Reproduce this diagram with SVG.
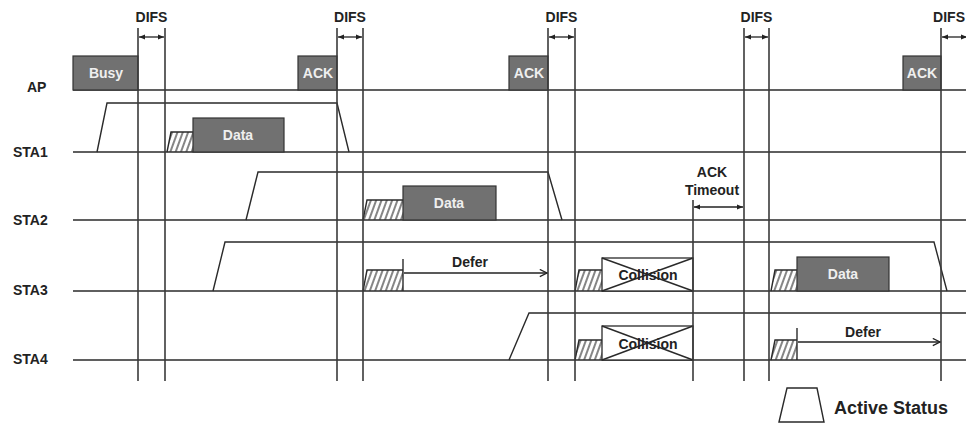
<svg xmlns="http://www.w3.org/2000/svg" width="966" height="424" viewBox="0 0 966 424">
<defs>
<style>
.ln{stroke:#2a2a2a;stroke-width:1.4;fill:none}
.vl{stroke:#3a3a3a;stroke-width:1.6}
.t{font-family:"Liberation Sans",Arial,sans-serif;font-weight:bold;font-size:14px;fill:#222}
.m{text-anchor:middle}
.box{fill:#717171;stroke:#333;stroke-width:1.2}
.bt{font-family:"Liberation Sans",Arial,sans-serif;font-weight:bold;font-size:14px;fill:#efefef;text-anchor:middle}
.ht{fill:url(#h);stroke:none}
.cb{fill:#fff;stroke:#2a2a2a;stroke-width:1.3}
.arr{stroke:#222;stroke-width:1.3;fill:none}
</style>
<pattern id="h" width="5" height="10" patternUnits="userSpaceOnUse" patternTransform="rotate(20)">
<line x1="2" y1="-1" x2="2" y2="11" stroke="#333" stroke-width="1.2"/>
</pattern>
<marker id="ad" viewBox="0 0 6 6" refX="6" refY="3" markerWidth="6" markerHeight="6" markerUnits="userSpaceOnUse" orient="auto-start-reverse">
<path d="M0,0.5 L6,3 L0,5.5z" fill="#222"/>
</marker>
<marker id="ao" viewBox="0 0 10 10" refX="9" refY="5" markerWidth="9" markerHeight="9" markerUnits="userSpaceOnUse" orient="auto">
<path d="M1,1 L9,5 L1,9" fill="none" stroke="#222" stroke-width="1.4"/>
</marker>
</defs>
<rect width="966" height="424" fill="#fff"/>

<g id="timelines">
<line class="ln" x1="73" y1="90" x2="966" y2="90"/>
<line class="ln" x1="73" y1="152" x2="966" y2="152"/>
<line class="ln" x1="73" y1="220" x2="966" y2="220"/>
<line class="ln" x1="73" y1="291" x2="966" y2="291"/>
<line class="ln" x1="73" y1="360" x2="966" y2="360"/>
<text class="t" x="27" y="92">AP</text>
<text class="t" x="13" y="157">STA1</text>
<text class="t" x="13" y="225">STA2</text>
<text class="t" x="13" y="295">STA3</text>
<text class="t" x="13" y="364">STA4</text>
</g>

<g id="active-status">
<polyline class="ln" points="97,152 107,103 337,103 349,152"/>
<polyline class="ln" points="246,220 258,172 548,172 562,220"/>
<polyline class="ln" points="213,291 225,242 934,242 947,291"/>
<polyline class="ln" points="509,360 529,313 966,313"/>
</g>

<g id="ap-frames">
<g id="busy"><rect class="box" x="73" y="56" width="65" height="34"/><text class="bt" x="106" y="78">Busy</text></g>
<g id="ack1"><rect class="box" x="298" y="56" width="39" height="34"/><text class="bt" x="318" y="78">ACK</text></g>
<g id="ack2"><rect class="box" x="509" y="56" width="39" height="34"/><text class="bt" x="529" y="78">ACK</text></g>
<g id="ack3"><rect class="box" x="903" y="56" width="38" height="34"/><text class="bt" x="922" y="78">ACK</text></g>
</g>

<g id="sta1-data">
<polygon class="ht" points="167,152 171,132 193,132 193,152"/>
<polyline class="ln" points="167,152 171,132 193,132"/>
<rect class="box" x="193" y="118" width="91" height="34"/>
<text class="bt" x="238" y="140">Data</text>
</g>

<g id="sta2-data">
<polygon class="ht" points="363,220 367,200 403,200 403,220"/>
<polyline class="ln" points="363,220 367,200 403,200"/>
<rect class="box" x="403" y="186" width="93" height="34"/>
<text class="bt" x="449" y="208">Data</text>
</g>

<g id="sta3-backoff">
<polygon class="ht" points="363,291 367,270 403,270 403,291"/>
<polyline class="ln" points="363,291 367,270 403,270"/>
<line class="ln" x1="403" y1="259" x2="403" y2="291"/>
</g>

<g id="sta3-collision">
<polygon class="ht" points="575,291 579,270 602,270 602,291"/>
<polyline class="ln" points="575,291 579,270 602,270"/>
<rect class="cb" x="602" y="258" width="91" height="33"/>
<line class="ln" x1="602" y1="258" x2="693" y2="291"/>
<line class="ln" x1="602" y1="291" x2="693" y2="258"/>
<text class="t m" x="648" y="280">Collision</text>
</g>

<g id="sta3-data">
<polygon class="ht" points="771,291 775,270 797,270 797,291"/>
<polyline class="ln" points="771,291 775,270 797,270"/>
<rect class="box" x="797" y="257" width="92" height="34"/>
<text class="bt" x="843" y="279">Data</text>
</g>

<g id="sta4-collision">
<polygon class="ht" points="575,360 579,340 602,340 602,360"/>
<polyline class="ln" points="575,360 579,340 602,340"/>
<rect class="cb" x="602" y="326" width="91" height="34"/>
<line class="ln" x1="602" y1="326" x2="693" y2="360"/>
<line class="ln" x1="602" y1="360" x2="693" y2="326"/>
<text class="t m" x="648" y="349">Collision</text>
</g>

<g id="sta4-backoff">
<polygon class="ht" points="771,360 775,340 797,340 797,360"/>
<polyline class="ln" points="771,360 775,340 797,340"/>
<line class="ln" x1="797" y1="328" x2="797" y2="360"/>
</g>

<g id="time-markers">
<line class="vl" x1="138" y1="28" x2="138" y2="381"/>
<line class="vl" x1="165" y1="28" x2="165" y2="381"/>
<line class="vl" x1="337" y1="28" x2="337" y2="381"/>
<line class="vl" x1="363" y1="28" x2="363" y2="381"/>
<line class="vl" x1="548" y1="28" x2="548" y2="381"/>
<line class="vl" x1="575" y1="28" x2="575" y2="381"/>
<line class="vl" x1="744" y1="28" x2="744" y2="381"/>
<line class="vl" x1="769" y1="28" x2="769" y2="381"/>
<line class="vl" x1="941" y1="28" x2="941" y2="381"/>
<line class="vl" x1="968" y1="28" x2="968" y2="381"/>
<line class="vl" x1="693" y1="200" x2="693" y2="381"/>
<text class="t m" x="151.5" y="22">DIFS</text>
<text class="t m" x="350" y="22">DIFS</text>
<text class="t m" x="561.5" y="22">DIFS</text>
<text class="t m" x="756.5" y="22">DIFS</text>
<text class="t" x="965" y="22" text-anchor="end">DIFS</text>
<text class="t m" x="712" y="177">ACK</text>
<text class="t m" x="712" y="195">Timeout</text>
</g>

<g id="connectors">
<line class="arr" x1="139" y1="37" x2="164" y2="37" marker-start="url(#ad)" marker-end="url(#ad)"/>
<line class="arr" x1="338" y1="37" x2="362" y2="37" marker-start="url(#ad)" marker-end="url(#ad)"/>
<line class="arr" x1="549" y1="37" x2="574" y2="37" marker-start="url(#ad)" marker-end="url(#ad)"/>
<line class="arr" x1="745" y1="37" x2="768" y2="37" marker-start="url(#ad)" marker-end="url(#ad)"/>
<line class="arr" x1="942" y1="37" x2="967" y2="37" marker-start="url(#ad)" marker-end="url(#ad)"/>
<line class="arr" x1="694" y1="207" x2="743" y2="207" marker-start="url(#ad)" marker-end="url(#ad)"/>
<line class="arr" x1="404" y1="273" x2="547" y2="273" marker-end="url(#ao)"/>
<text class="t m" x="470" y="267">Defer</text>
<line class="arr" x1="798" y1="342" x2="940" y2="342" marker-end="url(#ao)"/>
<text class="t m" x="863" y="337">Defer</text>
</g>

<g id="legend">
<polygon class="ln" points="779,422 787,388 817,388 824,422"/>
<text class="t" x="834" y="414" style="font-size:18px">Active Status</text>
</g>
</svg>
